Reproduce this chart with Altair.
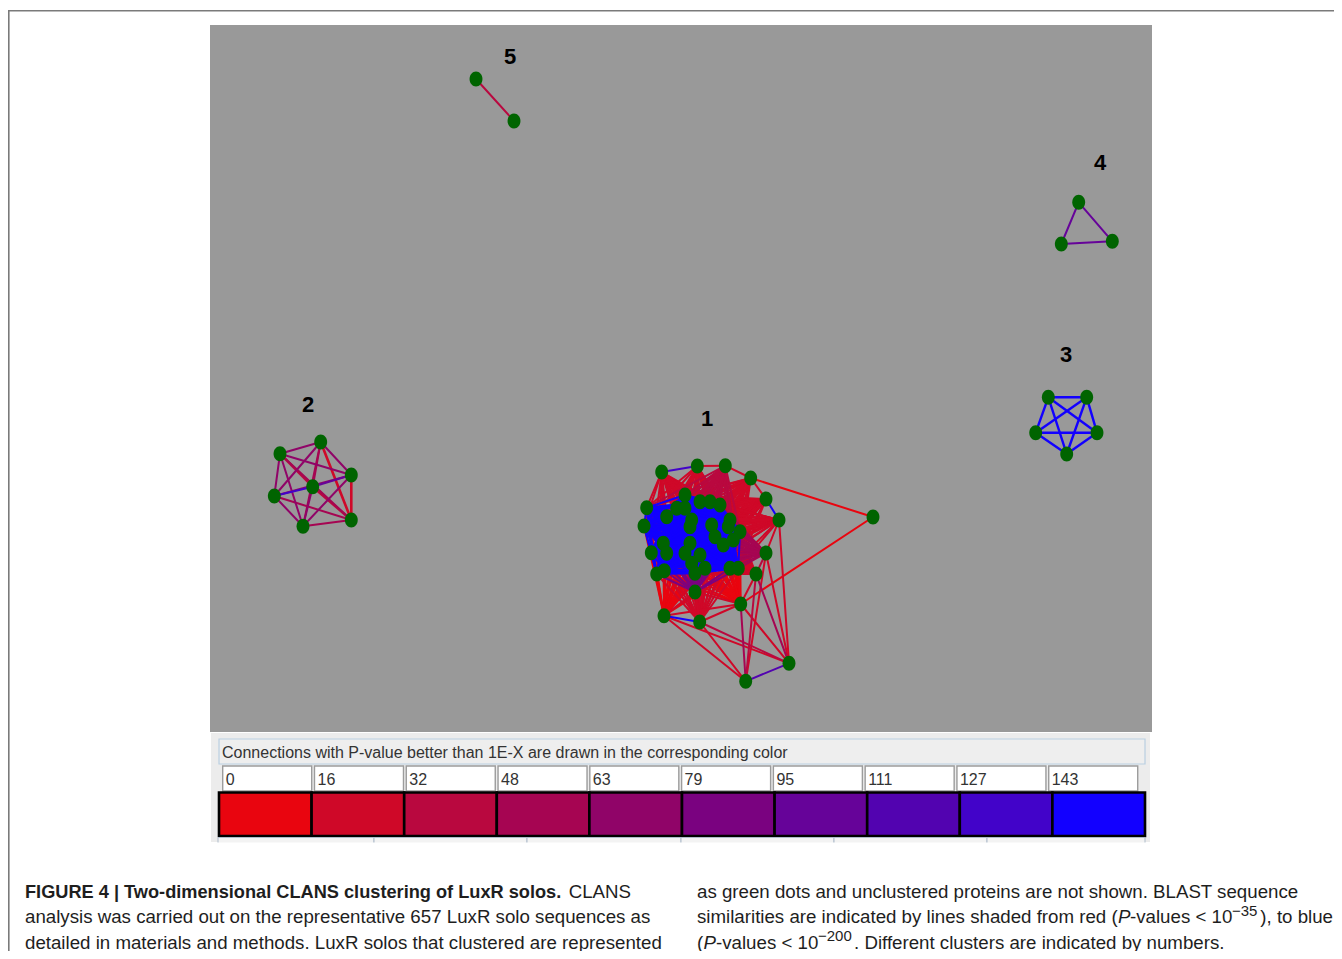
import itertools
import altair as alt
import pandas as pd

# ---------------- values ----------------
# legend: P-value exponent thresholds and their colours
LEVEL_VALUES = [0, 16, 32, 48, 63, 79, 95, 111, 127, 143]
LEVEL_COLORS = ["#e9050f", "#cf0828", "#b9083f", "#a60552", "#900468",
                "#7a0280", "#660399", "#5203b0", "#4203c9", "#1200ff"]

HEADER_TEXT = "Connections with P-value better than 1E-X are drawn in the corresponding color"

# cluster 1: outer nodes (x, y) and level of their links to the core
C1_OUTER_X = [661.7, 697.3, 725.3, 750.7, 766, 779, 766, 756, 740.7, 695, 664, 699.7]
C1_OUTER_Y = [472, 466, 465.7, 478, 499, 520, 553, 574, 604, 592, 615.7, 622]
C1_OUTER_LEVEL = [1, 1, 2, 1, 1, 1, 3, 1, 0, 5, 0, 1]
# cluster 1: densely linked core (blue blob)
C1_CORE_X = [646.7, 644, 651.3, 656.7, 664.3, 685, 700, 710, 720, 676.7, 685,
             666.7, 691.7, 690, 711.7, 730, 728.3, 740, 715, 733.3, 723.3,
             663.3, 666.7, 690, 685, 700, 691.7, 705, 695, 730, 738.3]
C1_CORE_Y = [507.7, 526, 552.7, 574, 570.7, 495, 501.7, 501.7, 505, 508.3, 508.3,
             516.7, 520, 526.7, 525, 520, 526.7, 531.7, 536.7, 540, 545,
             543.3, 553.3, 543.3, 553.3, 555, 563.3, 568.3, 573.3, 568.3, 568.3]
# cluster 1: far nodes
C1_FAR_X = [873, 789, 745.7]
C1_FAR_Y = [517, 663.3, 681.3]
# cluster 1: other links (node a, node b, level)
C1_LINKS = [("O0", "O1", 8), ("O1", "O2", 1), ("O2", "O3", 1), ("O3", "O4", 1),
            ("O4", "O5", 9), ("O5", "O6", 1), ("O6", "O7", 2), ("O7", "O8", 1),
            ("O8", "O9", 1), ("O9", "O10", 1), ("O10", "O11", 9), ("O8", "O10", 1),
            ("O8", "O11", 1), ("O9", "O11", 1),
            ("F0", "O3", 0), ("F0", "O8", 0),
            ("F2", "F1", 7), ("F2", "O10", 1), ("F2", "O11", 1), ("F2", "O8", 3),
            ("F2", "O7", 2), ("F2", "O6", 1),
            ("F1", "O10", 1), ("F1", "O11", 2), ("F1", "O5", 1), ("F1", "O6", 1),
            ("F1", "O7", 3), ("F1", "O8", 1)]

# cluster 2
C2_X = [280, 320.7, 351.3, 312.7, 274.3, 351.3, 303]
C2_Y = [453.7, 442, 475, 486.7, 496, 520, 526.3]
C2_LINKS = [(0, 1, 4), (0, 2, 4), (0, 3, 2), (0, 4, 4), (0, 5, 3), (0, 6, 4),
            (1, 2, 4), (1, 3, 3), (1, 4, 4), (1, 5, 1), (1, 6, 3), (2, 3, 6),
            (2, 4, 4), (2, 5, 1), (2, 6, 4), (3, 4, 8), (3, 5, 2), (3, 6, 4),
            (4, 5, 3), (4, 6, 4), (5, 6, 3)]
# cluster 3
C3_X = [1048.3, 1086.7, 1035.7, 1097, 1066.7]
C3_Y = [397.3, 397.3, 432.7, 432.7, 454]
C3_LEVEL = 9
# cluster 4
C4_X = [1078.7, 1061.3, 1112.3]
C4_Y = [202.3, 244, 241.3]
C4_LEVEL = 6
# cluster 5
C5_X = [476, 514]
C5_Y = [79, 121]
C5_LEVEL = 2

CLUSTER_NAMES = ["1", "2", "3", "4", "5"]
CLUSTER_LABEL_X = [707, 308, 1066, 1100, 510]
CLUSTER_LABEL_Y = [419, 405, 355, 163, 57]

# caption: text pieces
CAPTION_BOLD = "FIGURE 4 | Two-dimensional CLANS clustering of LuxR solos."
CAPTION_LEFT = [" CLANS",
                "analysis was carried out on the representative 657 LuxR solo sequences as",
                "detailed in materials and methods. LuxR solos that clustered are represented"]
CAPTION_RIGHT_1 = "as green dots and unclustered proteins are not shown. BLAST sequence"
CAPTION_RIGHT_2 = ["similarities are indicated by lines shaded from red (", "P",
                   "-values < 10", "\u221235", "), to blue"]
CAPTION_RIGHT_3 = ["(", "P", "-values < 10", "\u2212200",
                   ". Different clusters are indicated by numbers."]
PIECE_STYLE = ["normal", "italic", "normal", "sup", "normal"]

# ---------------- layout of the figure (page pixels) ----------------
PLOT_BOX = (210, 25, 1152, 732)
PANEL_BOX = (211, 733, 1150, 842)
HEADER_BOX = (219, 739, 1145, 764)
NUM_ROW = (222.7, 766, 91.78, 89, 791)     # x0, y0, pitch, width, y1
COLOR_ROW = (219, 792.5, 92.6, 836)        # x0, y0, pitch, y1
CAPTION_X = (25, 697)
CAPTION_BASE = [897.5, 923, 948.5]
PIECE_X_2 = [697, 1118, 1130, 1232, 1333]
PIECE_X_3 = [697, 703.5, 716, 818, 854]
PIECE_ALIGN_2 = ["left", "left", "left", "left", "right"]
PIECE_ALIGN_3 = ["left"] * 5

XS = alt.Scale(domain=[8, 1334], nice=False, zero=False)
YS = alt.Scale(domain=[8, 951], nice=False, zero=False, reverse=True)

CAP_FONT = "Liberation Sans"
CAP_SIZE = 18.7
CAP_COLOR = "#1e1e1e"


def X(f):
    return alt.X(f, type="quantitative", scale=XS, axis=None)


def Y(f):
    return alt.Y(f, type="quantitative", scale=YS, axis=None)


def box(x, y, x2, y2):
    return pd.DataFrame([dict(x=x, y=y, x2=x2, y2=y2)])


# ---------------- build edge & node tables ----------------
edges = []


def add_edge(p, q, level, w=2.0):
    edges.append(dict(x=p[0], y=p[1], x2=q[0], y2=q[1], level=level,
                      color=LEVEL_COLORS[level], w=w))


outer = list(zip(C1_OUTER_X, C1_OUTER_Y))
core = list(zip(C1_CORE_X, C1_CORE_Y))
far = list(zip(C1_FAR_X, C1_FAR_Y))
named = {f"O{i}": p for i, p in enumerate(outer)}
named.update({f"F{i}": p for i, p in enumerate(far)})

for i, p in enumerate(outer):
    for q in core:
        add_edge(p, q, C1_OUTER_LEVEL[i])
for p, q in itertools.combinations(core, 2):
    add_edge(p, q, 9)
for a, b, lv in C1_LINKS:
    add_edge(named[a], named[b], lv)

c2 = list(zip(C2_X, C2_Y))
for a, b, lv in C2_LINKS:
    add_edge(c2[a], c2[b], lv, 2.6 if lv <= 2 else 2.0)
c3 = list(zip(C3_X, C3_Y))
for p, q in itertools.combinations(c3, 2):
    add_edge(p, q, C3_LEVEL, 2.4)
c4 = list(zip(C4_X, C4_Y))
for p, q in itertools.combinations(c4, 2):
    add_edge(p, q, C4_LEVEL, 2.0)
c5 = list(zip(C5_X, C5_Y))
add_edge(c5[0], c5[1], C5_LEVEL, 2.0)

edges_df = pd.DataFrame(edges).sort_values("level", kind="stable")

nodes = outer + core + far + c2 + c3 + c4 + c5
nodes_df = pd.DataFrame(nodes, columns=["x", "y"])

# ---------------- layers ----------------
frame = alt.Chart(box(8.8, 10.8, 2000, 2000)).mark_rect(
    fill=None, stroke="#7a7a7a", strokeWidth=1.6
).encode(x=X("x"), y=Y("y"), x2="x2", y2="y2")

plot_bg = alt.Chart(box(*PLOT_BOX)).mark_rect(color="#999999").encode(
    x=X("x"), y=Y("y"), x2="x2", y2="y2")

edge_layer = alt.Chart(edges_df).mark_rule(strokeCap="round").encode(
    x=X("x"), y=Y("y"), x2="x2", y2="y2",
    color=alt.Color("color:N", scale=None),
    strokeWidth=alt.StrokeWidth("w:Q", scale=None),
)

ELLIPSE = "M -0.86 0 A 0.86 1 0 1 0 0.86 0 A 0.86 1 0 1 0 -0.86 0 Z"
node_layer = alt.Chart(nodes_df).mark_point(
    filled=True, opacity=1, color="#006400", shape=ELLIPSE, size=225, strokeWidth=0
).encode(x=X("x"), y=Y("y"))

labels_df = pd.DataFrame(dict(t=CLUSTER_NAMES, x=CLUSTER_LABEL_X, y=CLUSTER_LABEL_Y))
label_layer = alt.Chart(labels_df).mark_text(
    font="Liberation Sans", fontSize=22, fontWeight="bold", color="#000000",
    align="center", baseline="middle"
).encode(x=X("x"), y=Y("y"), text="t:N")

panel = alt.Chart(box(*PANEL_BOX)).mark_rect(color="#ececec").encode(
    x=X("x"), y=Y("y"), x2="x2", y2="y2")

header_box = alt.Chart(box(*HEADER_BOX)).mark_rect(
    fill="#eeeeee", stroke="#b9cfe2", strokeWidth=1.2
).encode(x=X("x"), y=Y("y"), x2="x2", y2="y2")

header_text = alt.Chart(pd.DataFrame([dict(t=HEADER_TEXT, x=HEADER_BOX[0] + 3,
                                           y=(HEADER_BOX[1] + HEADER_BOX[3]) / 2 + 1)])).mark_text(
    font="Liberation Sans", fontSize=16, color="#333333", align="left", baseline="middle"
).encode(x=X("x"), y=Y("y"), text="t:N")

num_df = pd.DataFrame(dict(
    t=[str(v) for v in LEVEL_VALUES],
    x=[NUM_ROW[0] + i * NUM_ROW[2] for i in range(len(LEVEL_VALUES))],
))
num_df["x2"] = num_df["x"] + NUM_ROW[3]
num_df["y"] = NUM_ROW[1]
num_df["y2"] = NUM_ROW[4]
num_df["tx"] = num_df["x"] + 3
num_df["ty"] = (NUM_ROW[1] + NUM_ROW[4]) / 2 + 1

num_boxes = alt.Chart(num_df).mark_rect(
    fill="#ffffff", stroke="#9c9c9c", strokeWidth=1.4
).encode(x=X("x"), y=Y("y"), x2="x2", y2="y2")
num_text = alt.Chart(num_df).mark_text(
    font="Liberation Sans", fontSize=16, color="#333333", align="left", baseline="middle"
).encode(x=X("tx"), y=Y("ty"), text="t:N")

col_df = pd.DataFrame(dict(
    c=LEVEL_COLORS,
    x=[COLOR_ROW[0] + i * COLOR_ROW[2] for i in range(len(LEVEL_COLORS))],
))
col_df["x2"] = col_df["x"] + COLOR_ROW[2]
col_df["y"] = COLOR_ROW[1]
col_df["y2"] = COLOR_ROW[3]
col_boxes = alt.Chart(col_df).mark_rect(stroke="#000000", strokeWidth=2.6).encode(
    x=X("x"), y=Y("y"), x2="x2", y2="y2", fill=alt.Fill("c:N", scale=None)
)

BUTTON_EDGES = [218, 374, 527, 681, 834, 987, 1145]
btn_df = pd.DataFrame(dict(x=BUTTON_EDGES[:-1], x2=BUTTON_EDGES[1:]))
btn_df["y"] = 837.5
btn_df["y2"] = 846
btn_layer = alt.Chart(btn_df).mark_rect(
    fill="#f3f3f3", stroke="#aebccb", strokeWidth=1
).encode(x=X("x"), y=Y("y"), x2="x2", y2="y2")
panel_cut = alt.Chart(box(200, 842.5, 1160, 860)).mark_rect(color="#ffffff").encode(
    x=X("x"), y=Y("y"), x2="x2", y2="y2")


def text_layer(df, align="left", size=CAP_SIZE, weight="normal", style="normal"):
    return alt.Chart(df).mark_text(
        font=CAP_FONT, fontSize=size, fontWeight=weight, fontStyle=style,
        color=CAP_COLOR, align=align, baseline="alphabetic"
    ).encode(x=X("x"), y=Y("y"), text="t:N")


cap_layers = [
    text_layer(pd.DataFrame([dict(t=CAPTION_BOLD, x=CAPTION_X[0], y=CAPTION_BASE[0])]),
               size=18.2, weight="bold"),
    text_layer(pd.DataFrame([dict(t=CAPTION_LEFT[0], x=631, y=CAPTION_BASE[0])]), align="right"),
    text_layer(pd.DataFrame(dict(t=CAPTION_LEFT[1:], x=CAPTION_X[0], y=CAPTION_BASE[1:]))),
    text_layer(pd.DataFrame([dict(t=CAPTION_RIGHT_1, x=CAPTION_X[1], y=CAPTION_BASE[0])])),
]
for pieces, xs, aligns, base in ((CAPTION_RIGHT_2, PIECE_X_2, PIECE_ALIGN_2, CAPTION_BASE[1]),
                                 (CAPTION_RIGHT_3, PIECE_X_3, PIECE_ALIGN_3, CAPTION_BASE[2])):
    for t, x, al, st in zip(pieces, xs, aligns, PIECE_STYLE):
        if st == "sup":
            cap_layers.append(text_layer(pd.DataFrame([dict(t=t, x=x, y=base - 7.5)]),
                                         align=al, size=15))
        elif st == "italic":
            cap_layers.append(text_layer(pd.DataFrame([dict(t=t, x=x, y=base)]),
                                         align=al, style="italic"))
        else:
            cap_layers.append(text_layer(pd.DataFrame([dict(t=t, x=x, y=base)]), align=al))

chart = alt.layer(
    frame, plot_bg, edge_layer, node_layer, label_layer,
    panel, header_box, header_text, num_boxes, num_text, col_boxes,
    btn_layer, panel_cut, *cap_layers,
).properties(
    width=1326, height=943, padding=0,
    autosize=alt.AutoSizeParams(type="none"),
    background="#ffffff",
).configure_view(strokeWidth=0)

chart.save("out.html", embed_options={"renderer": "svg", "actions": False})
